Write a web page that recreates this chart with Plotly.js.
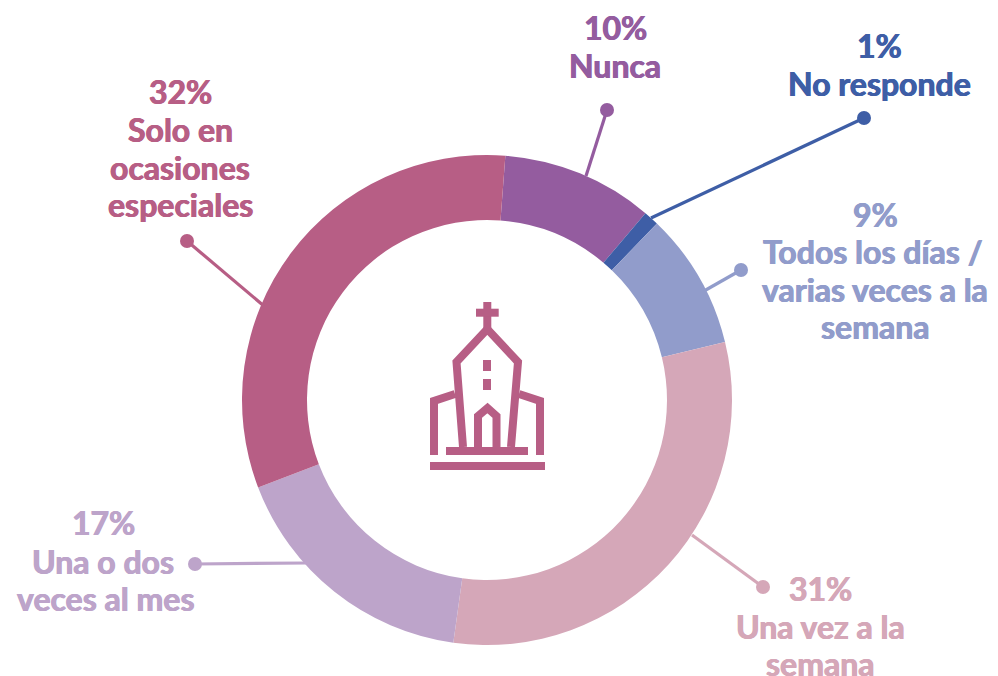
<!DOCTYPE html>
<html><head><meta charset="utf-8">
<script src="https://cdn.plot.ly/plotly-3.0.1.min.js"></script>
<style>html,body{margin:0;padding:0;background:#fff}#c{width:998px;height:676px}</style>
</head><body><div id="c"></div>
<script>
var categories = ['Nunca','No responde','Todos los días / varias veces a la semana','Una vez a la semana','Una o dos veces al mes','Solo en ocasiones especiales'];
var values = [10,1,9,31,17,32];
var colors = ['#945C9F','#3E5EA6','#919CCB','#D5A7B8','#BDA4CA','#B75E85'];
var iconColor = '#B75E85';
var W=998,H=676,cx=487,cy=400,R=245,r=180;
var FONT='Lato,"Liberation Sans",sans-serif', FS=32;

// [colour index, dot x, dot y, ring x, ring y]
var leaders=[[0,607,110,586,176],[1,864,118,651,218],[2,741,270,704,291],[3,763,587,692,535],[4,195,564,307,563],[5,187,241,264,306]];
// [colour index, centre x, centre y, text]
var lines=[
[0,615,27,'10%'],[0,615,65,'Nunca'],
[1,879,45,'1%'],[1,879,83,'No responde'],
[2,875,214,'9%'],[2,873,251,'Todos los días /'],[2,875,289,'varias veces a la'],[2,875,326,'semana'],
[3,820,588,'31%'],[3,820,626,'Una vez a la'],[3,820,663,'semana'],
[4,103,522,'17%'],[4,103,561,'Una o dos'],[4,105,598,'veces al mes'],
[5,180,91,'32%'],[5,180,129,'Solo en'],[5,180,167,'ocasiones'],[5,180,204,'especiales']];

var shapes=[];
leaders.forEach(function(l){
  var c=colors[l[0]];
  shapes.push({type:'line',xref:'x',yref:'y',x0:l[1],y0:l[2],x1:l[3],y1:l[4],line:{color:c,width:3.2}});
  shapes.push({type:'circle',xref:'x',yref:'y',x0:l[1]-7,x1:l[1]+7,y0:l[2]-7,y1:l[2]+7,fillcolor:c,line:{width:0}});
});
// church icon
function stroke(p){shapes.push({type:'path',xref:'x',yref:'y',path:p,line:{color:iconColor,width:8},fillcolor:'rgba(0,0,0,0)'});}
function block(x0,y0,x1,y1){shapes.push({type:'rect',xref:'x',yref:'y',x0:x0,y0:y0,x1:x1,y1:y1,fillcolor:iconColor,line:{width:0}});}
block(483.3,302,491.3,330);
block(476,308.7,498.7,316.7);
stroke('M 463 447 L 456.5 362 L 487.3 329 L 518 362 L 511 447');
block(483,360,491,371);
block(483,379,491,390);
stroke('M 455 394 L 434 401 L 434 455');
stroke('M 519 394 L 540 401 L 540 455');
stroke('M 478 447 L 478 416 L 487.5 408 L 496.5 416 L 496.5 447');
block(446,447,528,455);
block(430,462,545,470);

var annotations=lines.map(function(l){
  var c=colors[l[0]];
  return {xref:'x',yref:'y',x:l[1],y:l[2],text:'<b>'+l[3]+'</b>',showarrow:false,xanchor:'center',yanchor:'middle',
    font:{family:FONT,size:FS,color:c,shadow:'0.5px 0 0 '+c+', -0.5px 0 0 '+c}};
});

Plotly.newPlot('c',[
 {type:'pie',labels:categories,values:values,sort:false,direction:'clockwise',rotation:4.3,hole:r/R,
  marker:{colors:colors,line:{width:0}},textinfo:'none',showlegend:false,hoverinfo:'label+percent',
  domain:{x:[(cx-R)/W,(cx+R)/W],y:[(H-cy-R)/H,(H-cy+R)/H]}},
 {type:'scatter',x:[],y:[],xaxis:'x',yaxis:'y',showlegend:false}
],{
 width:W,height:H,margin:{l:0,r:0,t:0,b:0},paper_bgcolor:'#fff',plot_bgcolor:'rgba(0,0,0,0)',showlegend:false,
 xaxis:{range:[0,W],visible:false,fixedrange:true},
 yaxis:{range:[H,0],visible:false,fixedrange:true},
 shapes:shapes,annotations:annotations
},{displayModeBar:false,staticPlot:true});
</script></body></html>
